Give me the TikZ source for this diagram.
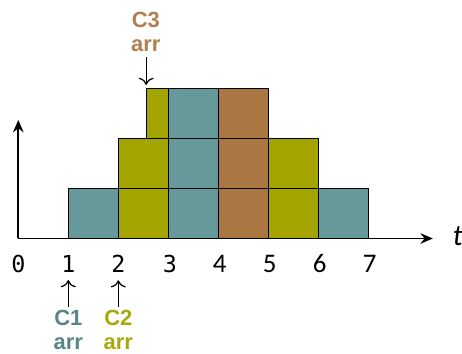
\documentclass[tikz,border=0pt]{standalone}
\usepackage{fontspec}
\newfontfamily\monofont{DejaVu Sans Mono}
\newfontfamily\calfont{Carlito}
\newfontfamily\labelfont{Liberation Sans}
\usetikzlibrary{arrows.meta}
\definecolor{cteal}{RGB}{102,153,153}
\definecolor{colive}{RGB}{164,164,0}
\definecolor{cbrown}{RGB}{170,118,65}
\definecolor{lteal}{RGB}{88,134,134}
\definecolor{lolive}{RGB}{168,168,10}
\definecolor{lbrown}{RGB}{178,128,80}
\begin{document}
\begin{tikzpicture}[>={To[scale=1.3]},
  blk/.style={draw, line width=0.7pt, minimum width=1cm, minimum height=1cm, inner sep=0pt},
  tick/.style={inner sep=1pt},
  arrlbl/.style={align=center, inner sep=0pt, anchor=base, font=\labelfont\bfseries\fontsize{12.5}{13.7}\selectfont}]
\useasboundingbox (-0.366,-2.31) rectangle (8.874,4.77);
% axes
\coordinate (o) at (0,0);
\coordinate (xend) at (8.29,0);
\coordinate (yend) at (0,2.37);
% row 1
\node[blk, fill=cteal] (b11) at (1.5,0.5) {};
\node[blk, fill=colive] (b12) at (2.5,0.5) {};
\node[blk, fill=cteal] (b13) at (3.5,0.5) {};
\node[blk, fill=cbrown] (b14) at (4.5,0.5) {};
\node[blk, fill=colive] (b15) at (5.5,0.5) {};
\node[blk, fill=cteal] (b16) at (6.5,0.5) {};
% row 2
\node[blk, fill=colive] (b22) at (2.5,1.5) {};
\node[blk, fill=cteal] (b23) at (3.5,1.5) {};
\node[blk, fill=cbrown] (b24) at (4.5,1.5) {};
\node[blk, fill=colive] (b25) at (5.5,1.5) {};
% row 3
\node[blk, fill=colive, minimum width=0.43cm] (b32) at (2.785,2.5) {};
\node[blk, fill=cteal] (b33) at (3.5,2.5) {};
\node[blk, fill=cbrown] (b34) at (4.5,2.5) {};
\draw[-{Stealth[length=7pt,width=6pt]}, line width=1pt] (o) -- (xend);
\draw[-{Stealth[length=7pt,width=6pt]}, line width=1pt] (o) -- (yend);
\node[font=\calfont\itshape\fontsize{17}{17}\selectfont] (tlbl) at (8.79,0.05) {t};
% ticks
\node[tick, font=\monofont\fontsize{13.3}{14}\selectfont] (t0) at (0,-0.5) {0};
\node[tick, font=\monofont\fontsize{13.3}{14}\selectfont] (t1) at (1,-0.5) {1};
\node[tick, font=\monofont\fontsize{13.3}{14}\selectfont] (t2) at (2,-0.5) {2};
\node[tick, font=\monofont\fontsize{13.3}{14}\selectfont] (t3) at (3.03,-0.5) {3};
\node[tick, font=\calfont\fontsize{15.3}{16}\selectfont] (t4) at (4.03,-0.5) {4};
\node[tick, font=\calfont\fontsize{15.3}{16}\selectfont] (t5) at (5.03,-0.5) {5};
\node[tick, font=\calfont\fontsize{15.3}{16}\selectfont] (t6) at (6.03,-0.5) {6};
\node[tick, font=\calfont\fontsize{15.3}{16}\selectfont] (t7) at (7.03,-0.5) {7};
% arrival labels
\node[arrlbl, text=lteal] (c1) at (1,-2.23) {C1\\arr};
\node[arrlbl, text=lolive] (c2) at (2,-2.23) {C2\\arr};
\node[arrlbl, text=lbrown] (c3) at (2.55,3.73) {C3\\arr};
\draw[->, line width=0.7pt, shorten <=1.7pt, shorten >=3.4pt] (c1.north) -- (t1.south);
\draw[->, line width=0.7pt, shorten <=1.7pt, shorten >=3.4pt] (c2.north) -- (t2.south);
\draw[->, line width=0.7pt, shorten <=2.8pt, shorten >=1.7pt] (c3.south -| b32.west) -- (b32.north west);
\end{tikzpicture}
\end{document}
